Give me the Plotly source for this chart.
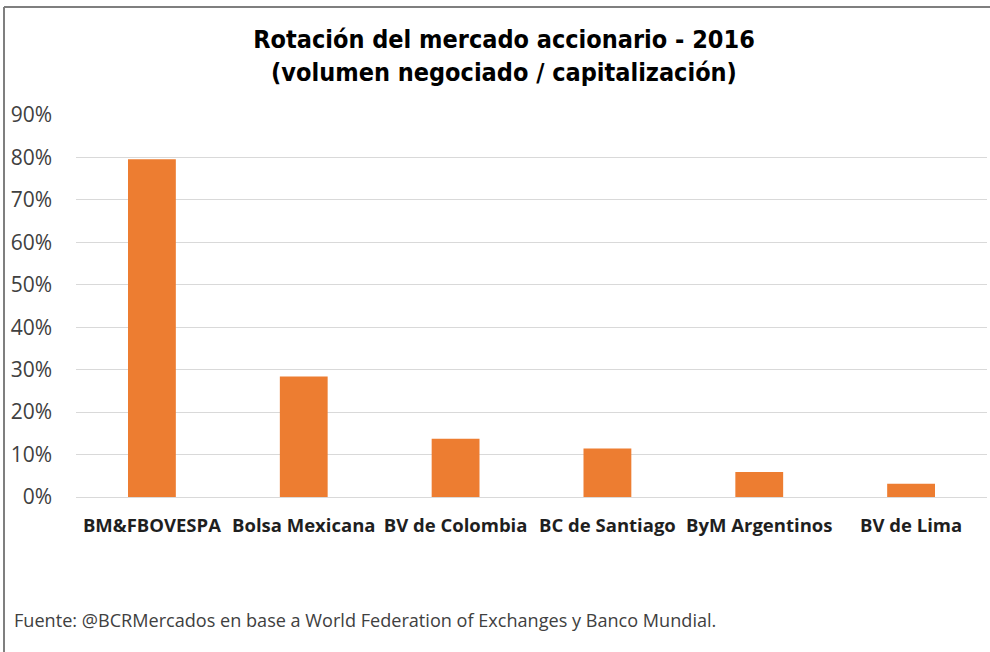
import plotly.graph_objects as go

categories = ["BM&FBOVESPA", "Bolsa Mexicana", "BV de Colombia", "BC de Santiago", "ByM Argentinos", "BV de Lima"]
values = [0.796, 0.284, 0.137, 0.114, 0.059, 0.031]
tick_vals = [0, 0.1, 0.2, 0.3, 0.4, 0.5, 0.6, 0.7, 0.8, 0.9]
tick_text = ["0%", "10%", "20%", "30%", "40%", "50%", "60%", "70%", "80%", "90%"]

W, H = 990, 652
L, R, T, B = 76, 3, 115, 155
pw = W - L - R
ph = H - T - B

def px_x(x):
    return (x - L) / pw

def px_y(y):
    return (H - B - y) / ph

fig = go.Figure()
fig.add_trace(go.Bar(
    x=categories, y=values,
    marker=dict(color="#ED7D31", line=dict(width=0)),
    hoverinfo="x+y",
))

fig.update_layout(
    width=W, height=H,
    margin=dict(l=L, r=R, t=T, b=B),
    paper_bgcolor="white", plot_bgcolor="white",
    bargap=0.685,
    showlegend=False,
    title=dict(
        text="Rotación del mercado accionario - 2016<br>(volumen negociado / capitalización)",
        x=px_x(504), xref="paper", xanchor="center",
        y=1 - 48 / H, yref="container", yanchor="middle",
        font=dict(family="DejaVu Sans Condensed", size=25, color="black", weight="bold"),
    ),
    xaxis=dict(
        showgrid=False, showline=False, ticks="",
        tickfont=dict(family="Open Sans", size=18.5, color="#1f1f1f", weight="bold"),
        ticklabelstandoff=15,
        fixedrange=True,
    ),
    yaxis=dict(
        range=[0, 0.9],
        tickvals=tick_vals, ticktext=tick_text,
        showgrid=True, gridcolor="#d9d9d9", gridwidth=1,
        zeroline=True, zerolinecolor="#d9d9d9", zerolinewidth=1,
        showline=False, ticks="",
        tickfont=dict(family="Open Sans", size=21, color="#404040"),
        ticklabelstandoff=23,
        fixedrange=True,
    ),
    annotations=[dict(
        text="Fuente: @BCRMercados en base a World Federation of Exchanges y Banco Mundial.",
        xref="paper", yref="paper",
        x=px_x(12), y=px_y(620), xanchor="left", yanchor="middle",
        showarrow=False,
        font=dict(family="Open Sans", size=18.1, color="#404040"),
    )],
    shapes=[
        dict(type="line", xref="paper", yref="paper",
             x0=px_x(4), x1=px_x(4), y0=px_y(7), y1=px_y(H + 5),
             line=dict(color="#7f7f7f", width=2)),
        dict(type="line", xref="paper", yref="paper",
             x0=px_x(4), x1=px_x(W + 5), y0=px_y(7), y1=px_y(7),
             line=dict(color="#7f7f7f", width=2)),
    ],
)

fig.write_html("out.html", config={"displayModeBar": False},
               post_script="document.body.style.margin='0';")
